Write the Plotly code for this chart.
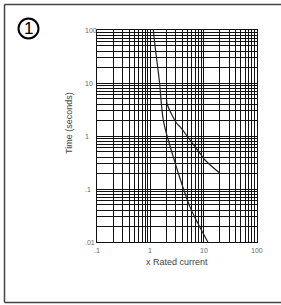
import math
import plotly.graph_objects as go

# Data (x = multiple of rated current, y = time in s)
min_curve_x = [1.14, 1.19, 1.32, 1.47, 1.75, 2.17, 2.81, 3.34, 5.54, 7.73, 12.0]
min_curve_t = [100, 64.8, 27.2, 11.4, 2.0, 0.84, 0.352, 0.20, 0.046, 0.0228, 0.01]

max_curve_x = [2.03, 2.05, 3.12, 3.6, 5.54, 8.54, 10.6, 20.2]
max_curve_t = [4.77, 4.1, 1.74, 1.50, 0.84, 0.472, 0.352, 0.198]

x_tick_vals = [0.1, 1, 10, 100]
x_tick_text = [".1", "1", "10", "100"]
y_tick_vals = [0.01, 0.1, 1, 10, 100]
y_tick_text = [".01", ".1", "1", "10", "100"]

x_grid = [d * 10 ** k for k in (-1, 0, 1) for d in range(1, 10)] + [100]
y_grid = [d * 10 ** k for k in (-2, -1, 0, 1) for d in range(1, 10)] + [100]

W, H = 281, 305
L, R, T, B = 97, 24, 30, 63
PW, PH = W - L - R, H - T - B


def px(x):
    return (x - L) / PW


def py(y):
    return 1 - (y - T) / PH


fig = go.Figure()
fig.add_trace(go.Scatter(x=min_curve_x, y=min_curve_t, mode="lines",
                         line=dict(color="#222", width=1.2, shape="spline"),
                         showlegend=False, hoverinfo="skip"))
fig.add_trace(go.Scatter(x=max_curve_x, y=max_curve_t, mode="lines",
                         line=dict(color="#222", width=1.2, shape="spline"),
                         showlegend=False, hoverinfo="skip"))

axis_common = dict(showgrid=True, gridcolor="#111", gridwidth=1,
                   showline=True, linecolor="#111", linewidth=1, mirror=True,
                   ticks="", showticklabels=False, zeroline=False)

fig.update_xaxes(type="log", range=[-1, 2], tickvals=x_grid, **axis_common)
fig.update_yaxes(type="log", range=[-2, 2], tickvals=y_grid, **axis_common)

lab_font = dict(size=7, color="#666", family="Liberation Sans")
annotations = []
for v, t in zip(x_tick_vals, x_tick_text):
    annotations.append(dict(x=math.log10(v), y=py(250), xref="x", yref="paper", text=t,
                            showarrow=False, xanchor="center", yanchor="middle",
                            font=lab_font))
for v, t in zip(y_tick_vals, y_tick_text):
    annotations.append(dict(x=px(83), y=math.log10(v), xref="paper", yref="y", text=t,
                            showarrow=False, xanchor="left", yanchor="middle",
                            font=lab_font))
annotations.append(dict(x=px(177), y=py(262), xref="paper", yref="paper",
                        text="x Rated current", showarrow=False,
                        xanchor="center", yanchor="middle",
                        font=dict(size=9, color="#444", family="Liberation Sans")))
annotations.append(dict(x=px(69), y=py(123), xref="paper", yref="paper",
                        text="Time (seconds)", showarrow=False, textangle=-90,
                        xanchor="center", yanchor="middle",
                        font=dict(size=9, color="#444", family="Liberation Sans")))
annotations.append(dict(x=px(28.5), y=py(28.5), xref="paper", yref="paper",
                        text="1", showarrow=False, xanchor="center", yanchor="middle",
                        font=dict(size=17, color="#000", family="Liberation Sans")))

border = dict(color="#444", width=1.5)
shapes = [
    dict(type="line", xref="paper", yref="paper", layer="below",
         x0=px(4.5), x1=px(4.5), y0=py(302.5), y1=py(4.5), line=border),
    dict(type="line", xref="paper", yref="paper", layer="below",
         x0=px(4.5), x1=px(281), y0=py(4.5), y1=py(4.5), line=border),
    dict(type="line", xref="paper", yref="paper", layer="below",
         x0=px(4.5), x1=px(281), y0=py(302.5), y1=py(302.5), line=border),
    dict(type="circle", xref="paper", yref="paper",
         x0=px(18.5), x1=px(38.5), y0=py(38.5), y1=py(18.5),
         line=dict(color="#000", width=2)),
]

fig.update_layout(width=W, height=H, margin=dict(l=L, r=R, t=T, b=B),
                  paper_bgcolor="white", plot_bgcolor="white",
                  annotations=annotations, shapes=shapes)

fig.write_html("out.html",
               config={"displayModeBar": False, "staticPlot": True},
               post_script="document.body.style.margin='0';"
                           "document.body.style.overflow='hidden';")
